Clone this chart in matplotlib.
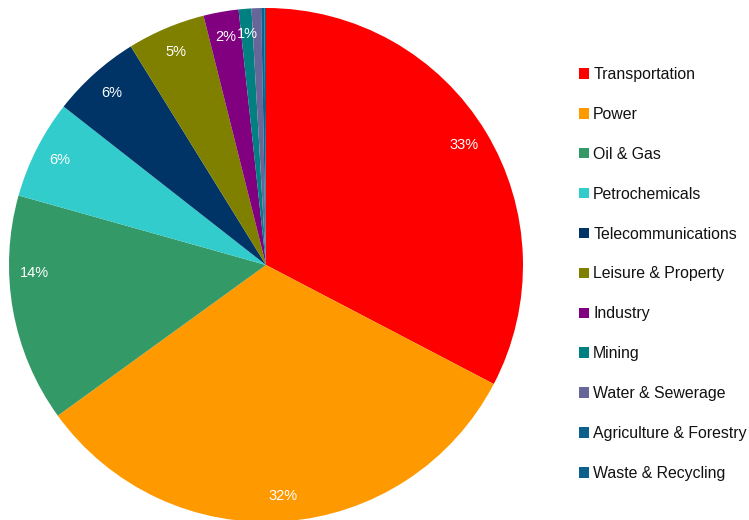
import matplotlib
matplotlib.use("Agg")
import matplotlib.pyplot as plt

categories = ["Transportation", "Power", "Oil & Gas", "Petrochemicals", "Telecommunications",
              "Leisure & Property", "Industry", "Mining", "Water & Sewerage",
              "Agriculture & Forestry", "Waste & Recycling"]
values = [32.6, 32.3, 14.3, 6.2, 5.6, 4.9, 2.2, 0.8, 0.6, 0.2, 0.1]
colors = ["#FF0000", "#FF9900", "#339966", "#33CCCC", "#003366",
          "#808000", "#800080", "#008080", "#666699", "#0D5F8C", "#0D5F8C"]

plt.rcParams['font.family'] = ['Liberation Sans', 'DejaVu Sans']

W, H = 749, 520
fig = plt.figure(figsize=(W/100, H/100), dpi=100)
cx, cy, r = 266, 265, 257
ax = fig.add_axes([(cx - r)/W, (H - cy - r)/H, 2*r/W, 2*r/H])

def fmt(p):
    return f"{p:.0f}%" if p >= 0.75 else ""

wedges, texts, autotexts = ax.pie(values, colors=colors, startangle=90, counterclock=False,
                                  autopct=fmt, pctdistance=0.9, radius=1,
                                  wedgeprops=dict(linewidth=0),
                                  textprops=dict(color="white", fontsize=10.5))
# Oil & Gas label sits a little higher in the reference
autotexts[2].set_position((-0.90, -0.03))
ax.set_xlim(-1, 1)
ax.set_ylim(-1, 1)
ax.set_aspect('equal')
ax.axis('off')

leg = fig.legend(wedges, categories, loc='upper left', bbox_to_anchor=(579/W, 1 - 67/H),
                 frameon=False, fontsize=11.4, labelspacing=1.572, handlelength=0.64,
                 handleheight=0.64, handletextpad=0.26, borderaxespad=0, borderpad=0)
for t in leg.get_texts():
    t.set_color("#111111")

fig.savefig("out.png", dpi=100)
